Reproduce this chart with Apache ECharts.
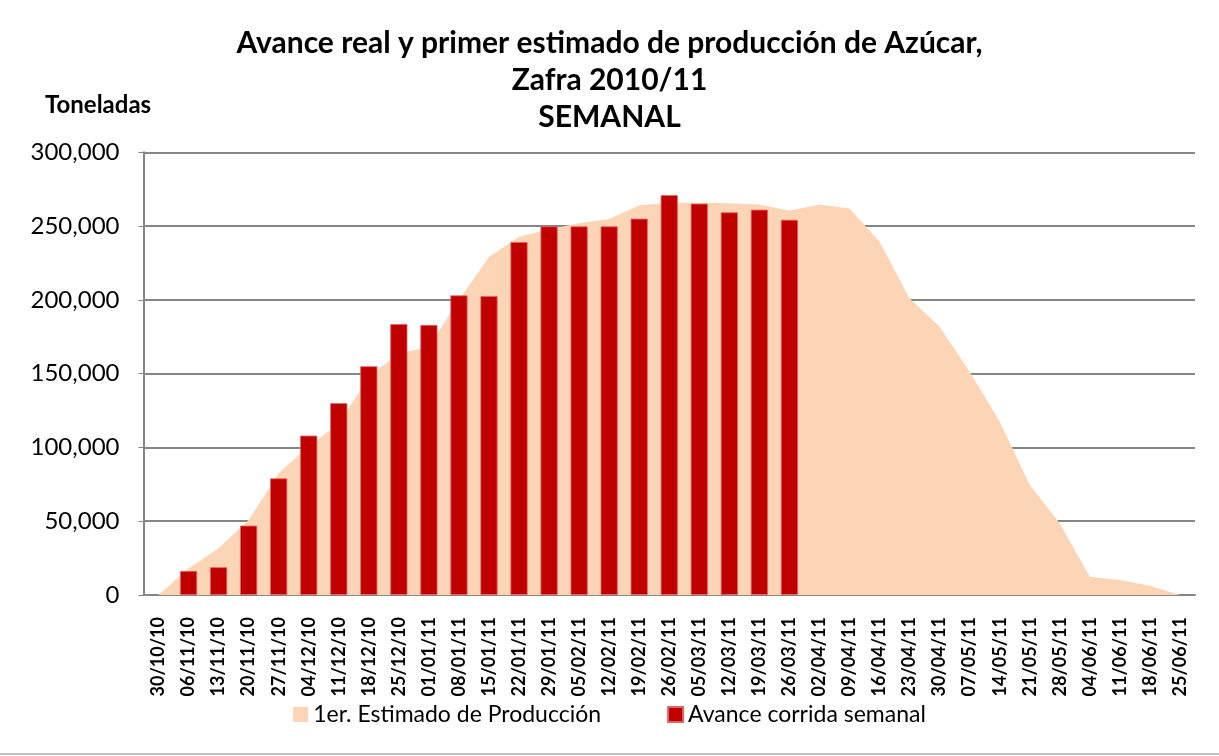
<!DOCTYPE html>
<html>
<head>
<meta charset="utf-8">
<script src="https://cdn.jsdelivr.net/npm/echarts@6/dist/echarts.min.js"></script>
<style>
  html, body { margin: 0; padding: 0; background: #fff; }
  #chart { width: 1219px; height: 756px; }
</style>
</head>
<body>
<div id="chart"></div>
<script>
const weeks = [
  '30/10/10', '06/11/10', '13/11/10', '20/11/10', '27/11/10', '04/12/10', '11/12/10',
  '18/12/10', '25/12/10', '01/01/11', '08/01/11', '15/01/11', '22/01/11', '29/01/11',
  '05/02/11', '12/02/11', '19/02/11', '26/02/11', '05/03/11', '12/03/11', '19/03/11',
  '26/03/11', '02/04/11', '09/04/11', '16/04/11', '23/04/11', '30/04/11', '07/05/11',
  '14/05/11', '21/05/11', '28/05/11', '04/06/11', '11/06/11', '18/06/11', '25/06/11'
];

// 1er. Estimado de Producción (toneladas)
const estimado = [
  0, 18000, 31600, 50800, 82500, 101000, 116000, 148000, 163800, 168000,
  200000, 229000, 242800, 247800, 251900, 254800, 264000, 265800, 265800, 265400,
  264700, 260400, 264700, 262000, 239400, 201000, 181800, 151300, 117500, 74500,
  48600, 12400, 10200, 6300, 0
];

// Avance corrida semanal (toneladas)
const avance = [
  null, 16300, 18800, 47000, 79000, 108000, 130000, 155000, 183600, 183000,
  203000, 202600, 239200, 249800, 249800, 249800, 255000, 271000, 265200, 259300,
  261100, 254300
];

const yTicks = [0, 50000, 100000, 150000, 200000, 250000, 300000];

const chart = echarts.init(document.getElementById('chart'));

chart.setOption({
  animation: false,
  backgroundColor: '#fff',
  title: {
    text: 'Avance real y primer estimado de producción de Azúcar,\nZafra 2010/11\nSEMANAL',
    left: 'center',
    top: 20,
    textStyle: {
      fontFamily: 'Lato',
      fontWeight: 'bold',
      fontSize: 30,
      lineHeight: 37,
      color: '#000'
    }
  },
  graphic: [
    {
      type: 'text',
      left: 45,
      top: 93,
      style: { text: 'Toneladas', font: 'bold 24px Lato', fill: '#000' }
    },
    {
      type: 'line',
      shape: { x1: 0, y1: 754, x2: 1219, y2: 754 },
      style: { stroke: '#bfbfbf', lineWidth: 2 }
    }
  ],
  legend: {
    bottom: 25,
    left: 'center',
    icon: 'rect',
    itemWidth: 15,
    itemHeight: 15,
    itemGap: 66,
    textStyle: { fontFamily: 'Lato', fontSize: 23, color: '#000' },
    data: ['1er. Estimado de Producción', 'Avance corrida semanal']
  },
  grid: {
    left: 143.5,
    right: 24,
    top: 152.3,
    bottom: 161,
    containLabel: false
  },
  xAxis: {
    type: 'category',
    data: weeks,
    boundaryGap: true,
    axisLine: { lineStyle: { color: '#868686', width: 2 } },
    axisTick: { show: false },
    axisLabel: {
      rotate: 90,
      interval: 0,
      margin: 22,
      fontFamily: 'Lato',
      fontWeight: 'bold',
      fontSize: 18,
      color: '#000'
    }
  },
  yAxis: {
    type: 'value',
    min: 0,
    max: 300000,
    interval: 50000,
    axisLine: { show: true, lineStyle: { color: '#868686', width: 2 } },
    axisTick: { show: true, length: 5, lineStyle: { color: '#868686' } },
    splitLine: { lineStyle: { color: '#868686', width: 2 } },
    axisLabel: {
      margin: 24,
      fontFamily: 'Lato',
      fontSize: 24,
      color: '#000',
      formatter: v => yTicks.includes(v) ? v.toLocaleString('en-US') : ''
    }
  },
  series: [
    {
      name: '1er. Estimado de Producción',
      type: 'line',
      data: estimado,
      symbol: 'none',
      lineStyle: { width: 0 },
      itemStyle: { color: '#FBD5B5' },
      areaStyle: { color: '#FBD5B5', opacity: 1 },
      z: 1
    },
    {
      name: 'Avance corrida semanal',
      type: 'bar',
      data: avance,
      barWidth: '57%',
      itemStyle: { color: '#C00000', borderColor: '#E06666', borderWidth: 0.8 },
      z: 2
    }
  ]
});
</script>
</body>
</html>
